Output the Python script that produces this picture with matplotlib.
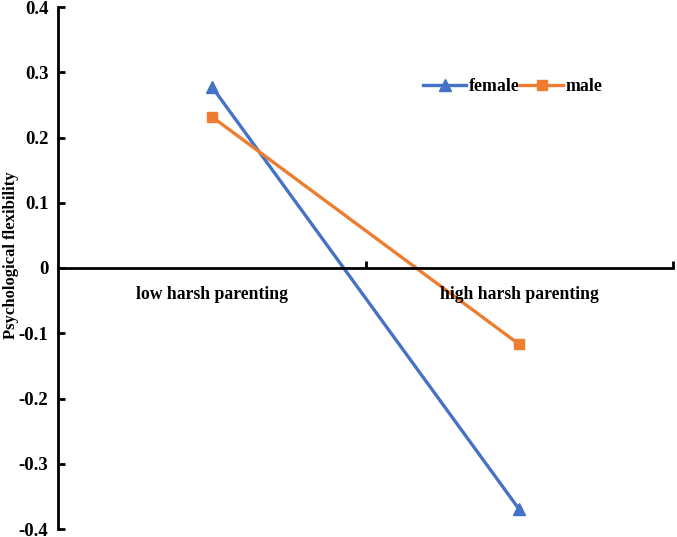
import matplotlib.pyplot as plt
import numpy as np

categories = ["low harsh parenting", "high harsh parenting"]
female = [0.278, -0.370]
male = [0.232, -0.117]
yticks = [-0.4, -0.3, -0.2, -0.1, 0, 0.1, 0.2, 0.3, 0.4]

plt.rcParams['font.family'] = 'Liberation Serif'
plt.rcParams['font.weight'] = 'bold'

fig = plt.figure(figsize=(6.77, 5.37), dpi=100)
ax = fig.add_axes([58/677, 8/537, 615/677, 522/537])

x = np.array([0.5, 1.5])
ax.plot(x, female, color='#4472C4', lw=2.4, marker='^', ms=8, label='female')
ax.plot(x, male, color='#ED7D31', lw=2.4, marker='s', ms=7, label='male')

ax.set_xlim(0, 2)
ax.set_ylim(-0.4, 0.4)
ax.set_yticks(yticks)
ax.set_yticklabels(["0" if v == 0 else f"{v:.1f}" for v in yticks], fontsize=13.5, fontweight='bold')

# x axis sits on y = 0, category labels under it
ax.spines['bottom'].set_position(('data', 0))
ax.spines['top'].set_visible(False)
ax.spines['right'].set_visible(False)
for s in ['left', 'bottom']:
    ax.spines[s].set_linewidth(2)
ax.set_xticks([1, 2])
ax.set_xticklabels([])
ax.tick_params(axis='x', direction='in', length=5, width=2)
ax.tick_params(axis='y', direction='in', length=5, width=2, pad=7)
for xi, lab in zip(x, categories):
    ax.text(xi, -0.04, lab, ha='center', va='center', fontsize=12.7, fontweight='bold')

ax.set_ylabel("Psychological flexibility", fontsize=12, fontweight='bold')
ax.yaxis.set_label_coords(-0.064, 0.525)

ax.legend(loc='upper left', bbox_to_anchor=(0.568, 0.895), ncol=2, frameon=False,
          handlelength=2.4, columnspacing=0.05, handletextpad=0.15,
          prop={'size': 12.8, 'weight': 'bold'})

fig.savefig('out.png', dpi=100)
